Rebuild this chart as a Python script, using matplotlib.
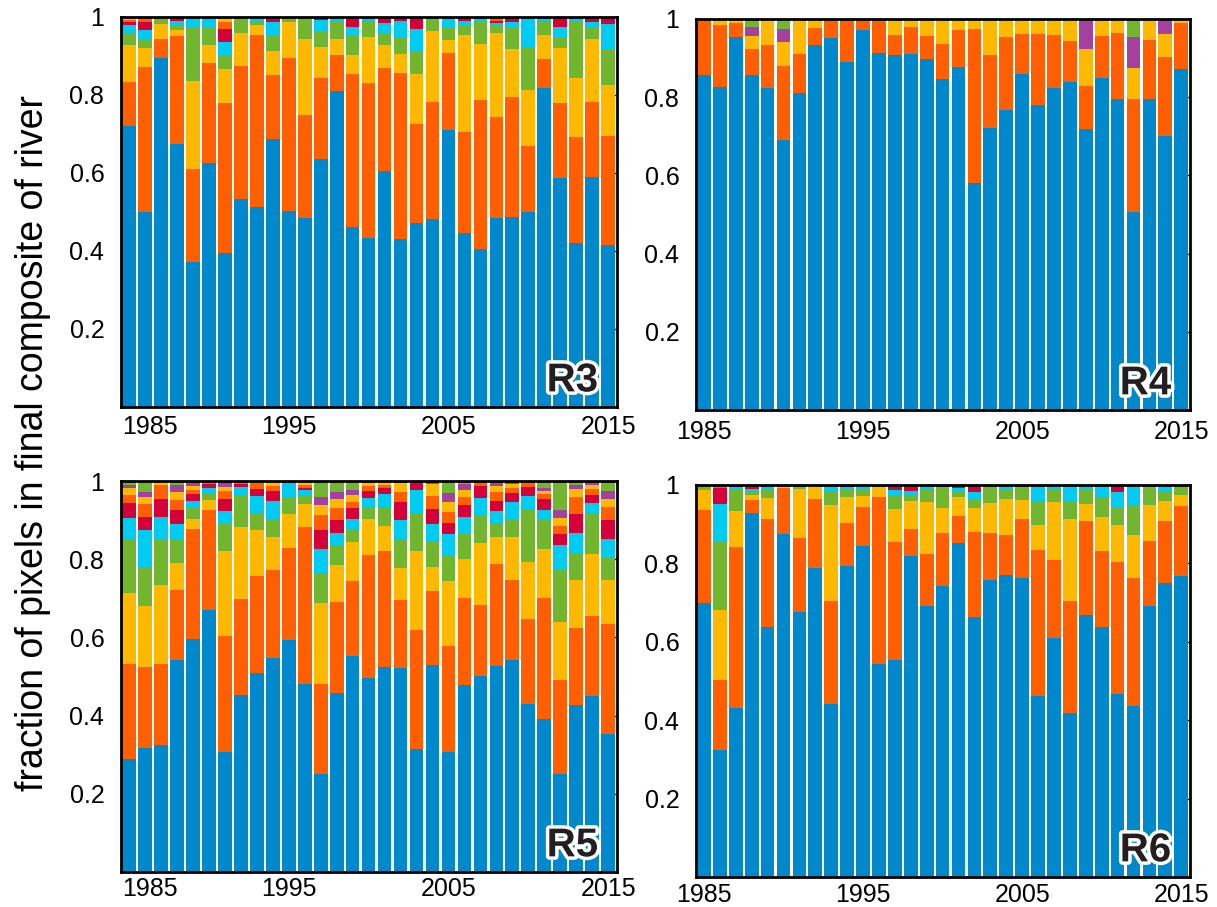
import numpy as np
import matplotlib
matplotlib.use("Agg")
import matplotlib.pyplot as plt
import matplotlib.patheffects as pe
from matplotlib.transforms import ScaledTranslation

plt.rcParams['font.family'] = ['Liberation Sans', 'DejaVu Sans']

years = list(range(1985, 2016))
xtick_years = [1985, 1995, 2005, 2015]
ytick_vals = [0.2, 0.4, 0.6, 0.8, 1.0]
ytick_text = ["0.2", "0.4", "0.6", "0.8", "1"]

# Cumulative fraction (top of each stacked class), one value per year 1985-2015.
# --- R3 ---
r3_blue = [0.720, 0.501, 0.896, 0.675, 0.371, 0.625, 0.395, 0.534, 0.514, 0.688, 0.503, 0.484, 0.637, 0.809, 0.462, 0.433,
           0.605, 0.431, 0.472, 0.482, 0.709, 0.445, 0.406, 0.485, 0.486, 0.501, 0.818, 0.587, 0.420, 0.591, 0.415]
r3_orange = [0.833, 0.871, 0.944, 0.952, 0.609, 0.883, 0.780, 0.874, 0.954, 0.852, 0.896, 0.749, 0.844, 0.903, 0.853, 0.830,
             0.870, 0.856, 0.725, 0.783, 0.908, 0.706, 0.788, 0.744, 0.796, 0.670, 0.892, 0.780, 0.692, 0.782, 0.696]
r3_yellow = [0.927, 0.920, 0.981, 0.967, 0.835, 0.929, 0.866, 0.959, 0.980, 0.913, 0.988, 0.944, 0.923, 0.944, 0.903, 0.950,
             0.929, 0.906, 0.855, 0.965, 0.941, 0.954, 0.930, 0.958, 0.917, 0.814, 0.954, 0.920, 0.844, 0.944, 0.825]
r3_green = [0.958, 0.943, 1.000, 0.980, 0.973, 0.975, 0.903, 1.000, 0.990, 0.954, 1.000, 1.000, 0.965, 0.986, 0.951, 0.988,
            0.959, 0.948, 0.912, 0.993, 0.971, 0.979, 0.987, 0.979, 0.973, 0.923, 0.987, 0.948, 0.987, 0.974, 0.916]
r3_cyan = [0.980, 0.967, 1.000, 0.990, 1.000, 1.000, 0.937, 1.000, 1.000, 0.986, 1.000, 1.000, 0.992, 1.000, 0.975, 1.000,
           0.984, 0.991, 0.968, 1.000, 1.000, 0.991, 1.000, 0.985, 0.988, 1.000, 1.000, 0.975, 1.000, 0.986, 0.981]
r3_red = [0.986, 0.988, 1.000, 1.000, 1.000, 1.000, 0.969, 1.000, 1.000, 1.000, 1.000, 1.000, 1.000, 1.000, 1.000, 1.000,
          1.000, 1.000, 1.000, 1.000, 1.000, 1.000, 1.000, 0.991, 1.000, 1.000, 1.000, 1.000, 1.000, 1.000, 0.997]
r3_orange2 = [0.992, 1.000, 1.000, 1.000, 1.000, 1.000, 0.988, 1.000, 1.000, 1.000, 1.000, 1.000, 1.000, 1.000, 1.000, 1.000,
              1.000, 1.000, 1.000, 1.000, 1.000, 1.000, 1.000, 0.996, 1.000, 1.000, 1.000, 1.000, 1.000, 1.000, 1.000]

# --- R4 ---
r4_blue = [0.856, 0.827, 0.953, 0.857, 0.824, 0.691, 0.811, 0.934, 0.951, 0.889, 0.973, 0.912, 0.908, 0.911, 0.897, 0.846,
           0.877, 0.581, 0.722, 0.768, 0.860, 0.780, 0.823, 0.840, 0.718, 0.850, 0.795, 0.506, 0.795, 0.702, 0.872]
r4_orange = [1.000, 0.985, 0.991, 0.923, 0.933, 0.881, 0.910, 0.977, 1.000, 1.000, 1.000, 1.000, 0.959, 0.979, 0.957, 0.936,
             0.972, 0.974, 0.908, 0.954, 0.961, 0.962, 0.959, 0.945, 0.829, 0.957, 0.964, 0.795, 0.947, 0.902, 0.989]
r4_yellow = [1.000, 1.000, 1.000, 0.957, 1.000, 0.942, 1.000, 1.000, 1.000, 1.000, 1.000, 1.000, 1.000, 1.000, 1.000, 1.000,
             1.000, 1.000, 1.000, 1.000, 1.000, 1.000, 1.000, 1.000, 0.922, 1.000, 1.000, 0.875, 1.000, 0.961, 1.000]
r4_purple = [1.000, 1.000, 1.000, 0.980, 1.000, 0.974, 1.000, 1.000, 1.000, 1.000, 1.000, 1.000, 1.000, 1.000, 1.000, 1.000,
             1.000, 1.000, 1.000, 1.000, 1.000, 1.000, 1.000, 1.000, 1.000, 1.000, 1.000, 0.953, 1.000, 1.000, 1.000]

# --- R5 ---
r5_blue = [0.288, 0.316, 0.324, 0.543, 0.595, 0.670, 0.307, 0.453, 0.509, 0.548, 0.593, 0.481, 0.251, 0.459, 0.553, 0.497,
           0.525, 0.521, 0.315, 0.530, 0.307, 0.479, 0.501, 0.527, 0.543, 0.430, 0.392, 0.250, 0.427, 0.449, 0.353]
r5_orange = [0.531, 0.524, 0.533, 0.721, 0.876, 0.925, 0.603, 0.697, 0.756, 0.773, 0.829, 0.882, 0.480, 0.691, 0.745, 0.810,
             0.822, 0.695, 0.618, 0.718, 0.578, 0.701, 0.682, 0.788, 0.748, 0.648, 0.700, 0.490, 0.623, 0.655, 0.635]
r5_yellow = [0.714, 0.680, 0.733, 0.791, 0.904, 0.951, 0.820, 0.882, 0.874, 0.857, 0.915, 0.941, 0.689, 0.785, 0.844, 0.904,
             0.885, 0.777, 0.821, 0.780, 0.744, 0.800, 0.842, 0.856, 0.857, 0.793, 0.825, 0.640, 0.746, 0.813, 0.748]
r5_green = [0.848, 0.779, 0.852, 0.849, 0.931, 0.969, 0.890, 0.961, 0.917, 0.903, 0.959, 0.962, 0.763, 0.833, 0.874, 0.932,
            0.933, 0.849, 0.917, 0.843, 0.808, 0.868, 0.914, 0.890, 0.903, 0.926, 0.900, 0.772, 0.816, 0.915, 0.803]
r5_cyan = [0.906, 0.874, 0.907, 0.891, 0.949, 0.983, 0.923, 0.985, 0.961, 0.949, 0.995, 0.977, 0.827, 0.867, 0.903, 0.957,
           0.966, 0.900, 0.977, 0.891, 0.864, 0.908, 0.956, 0.924, 0.946, 0.962, 0.927, 0.836, 0.867, 0.943, 0.852]
r5_red = [0.944, 0.909, 0.954, 0.926, 0.966, 0.992, 0.954, 0.992, 0.980, 0.974, 1.000, 0.983, 0.874, 0.900, 0.930, 0.975,
          0.983, 0.947, 1.000, 0.929, 0.893, 0.938, 0.987, 0.948, 0.969, 0.985, 0.953, 0.864, 0.916, 0.964, 0.899]
r5_orange2 = [0.964, 0.941, 0.991, 0.951, 0.977, 1.000, 0.975, 1.000, 0.994, 0.987, 1.000, 0.989, 0.914, 0.931, 0.947, 0.988,
              0.991, 0.973, 1.000, 0.961, 0.920, 0.960, 1.000, 0.973, 0.983, 1.000, 0.966, 0.885, 0.960, 0.980, 0.934]
r5_yellow2 = [0.981, 0.959, 1.000, 0.973, 0.987, 1.000, 0.985, 1.000, 1.000, 1.000, 1.000, 1.000, 0.938, 0.954, 0.965, 0.995,
              1.000, 0.994, 1.000, 0.992, 0.947, 0.977, 1.000, 0.988, 0.993, 1.000, 0.975, 0.906, 0.980, 0.989, 0.955]
r5_purple2 = [0.989, 0.973, 1.000, 0.989, 0.994, 1.000, 1.000, 1.000, 1.000, 1.000, 1.000, 1.000, 0.958, 0.972, 0.977, 1.000,
              1.000, 1.000, 1.000, 1.000, 0.970, 0.992, 1.000, 1.000, 1.000, 1.000, 0.983, 0.925, 0.991, 1.000, 0.975]

# --- R6 ---
r6_blue = [0.698, 0.324, 0.432, 0.929, 0.637, 0.875, 0.676, 0.788, 0.441, 0.793, 0.844, 0.543, 0.553, 0.819, 0.691, 0.742,
           0.853, 0.663, 0.757, 0.770, 0.763, 0.461, 0.610, 0.419, 0.669, 0.639, 0.467, 0.436, 0.691, 0.750, 0.769]
r6_orange = [0.936, 0.503, 0.843, 0.963, 0.914, 0.993, 0.866, 0.964, 0.705, 0.902, 0.943, 0.970, 0.855, 0.889, 0.825, 0.878,
             0.922, 0.880, 0.878, 0.873, 0.912, 0.834, 0.809, 0.705, 0.909, 0.832, 0.804, 0.764, 0.858, 0.907, 0.946]
r6_yellow = [0.986, 0.681, 0.934, 0.974, 0.967, 1.000, 0.991, 1.000, 0.949, 0.969, 0.973, 0.994, 0.940, 0.958, 0.957, 0.941,
             0.969, 0.941, 0.955, 0.964, 0.962, 0.898, 0.957, 0.914, 0.952, 0.918, 0.897, 0.872, 0.950, 0.959, 0.975]
r6_green = [1.000, 0.854, 0.990, 0.982, 0.987, 1.000, 1.000, 1.000, 0.985, 0.987, 0.987, 1.000, 0.971, 0.975, 0.991, 0.993,
            0.981, 0.961, 1.000, 0.987, 1.000, 0.958, 0.986, 0.957, 0.986, 0.967, 0.945, 0.950, 1.000, 0.981, 1.000]
r6_cyan = [1.000, 0.952, 0.994, 0.991, 1.000, 1.000, 1.000, 1.000, 1.000, 0.996, 1.000, 1.000, 0.986, 0.984, 1.000, 1.000,
           0.992, 0.981, 1.000, 1.000, 1.000, 1.000, 1.000, 1.000, 1.000, 1.000, 0.981, 1.000, 1.000, 1.000, 1.000]
r6_red = [1.000, 0.992, 1.000, 1.000, 1.000, 1.000, 1.000, 1.000, 1.000, 1.000, 1.000, 1.000, 1.000, 0.994, 1.000, 1.000,
          1.000, 1.000, 1.000, 1.000, 1.000, 1.000, 1.000, 1.000, 1.000, 1.000, 1.000, 1.000, 1.000, 1.000, 1.000]

PALETTE = {
    "blue": "#0088CC",
    "orange": "#FF5F00",
    "yellow": "#FFB800",
    "purple": "#A4419F",
    "green": "#72B52E",
    "cyan": "#00CBF0",
    "red": "#D5003A",
}

# (label, axes rect in figure fraction, stacked layers, colour of the remainder up to 1,
#  left column?, x tick label pad)
panels = [
    ("R3", [121 / 1217, 500 / 907, 496 / 1217, 390 / 907],
     [("blue", r3_blue), ("orange", r3_orange), ("yellow", r3_yellow), ("green", r3_green),
      ("cyan", r3_cyan), ("red", r3_red), ("orange", r3_orange2)], "yellow", True, 6),
    ("R4", [696 / 1217, 497 / 907, 494 / 1217, 391 / 907],
     [("blue", r4_blue), ("orange", r4_orange), ("yellow", r4_yellow), ("purple", r4_purple)], "green", False, 7),
    ("R5", [121 / 1217, 35 / 907, 496 / 1217, 391 / 907],
     [("blue", r5_blue), ("orange", r5_orange), ("yellow", r5_yellow), ("green", r5_green),
      ("cyan", r5_cyan), ("red", r5_red), ("orange", r5_orange2), ("yellow", r5_yellow2),
      ("purple", r5_purple2)], "green", True, 3.5),
    ("R6", [696 / 1217, 30 / 907, 494 / 1217, 392 / 907],
     [("blue", r6_blue), ("orange", r6_orange), ("yellow", r6_yellow), ("green", r6_green),
      ("cyan", r6_cyan), ("red", r6_red)], "orange", False, 4.5),
]

fig = plt.figure(figsize=(12.17, 9.07), dpi=100)

for label, rect, layers, rest_color, is_left, xpad in panels:
    ax = fig.add_axes(rect)
    x = np.array(years)
    below = np.zeros(len(years))
    for cname, tops in layers:
        tops = np.asarray(tops, dtype=float)
        ax.bar(x, tops - below, bottom=below, width=0.86, color=PALETTE[cname], linewidth=0)
        below = tops
    ax.bar(x, 1.0 - below, bottom=below, width=0.86, color=PALETTE[rest_color], linewidth=0)

    ax.set_xlim(1984.5, 2015.55)
    ax.set_ylim(0, 1)
    ax.set_axisbelow(True)
    ax.set_xticks(xtick_years)
    ax.set_xticklabels([str(y) for y in xtick_years])
    ax.set_yticks(ytick_vals)
    ax.set_yticklabels(ytick_text)
    ax.tick_params(axis="y", direction="in", length=5, width=1, right=True, left=True,
                   labelsize=18, pad=12)
    ax.tick_params(axis="x", length=0, labelsize=18, pad=xpad)
    for sp in ax.spines.values():
        sp.set_linewidth(2.0)
        sp.set_color("black")
    if is_left:
        first = ax.get_xticklabels()[0]
        first.set_transform(first.get_transform() + ScaledTranslation(0.21, 0, fig.dpi_scale_trans))

    ax.text(0.962, 0.04, label, transform=ax.transAxes, ha="right", va="baseline",
            fontsize=29, fontweight="bold", color="#231F20",
            path_effects=[pe.withStroke(linewidth=5, foreground="white")])

fig.text(0.027, 0.512, "fraction of pixels in final composite of river", rotation=90,
         ha="center", va="center", fontsize=27)

fig.savefig("out.png", dpi=100)
